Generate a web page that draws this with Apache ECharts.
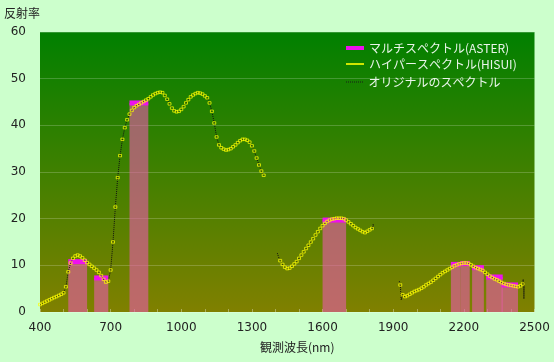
<!DOCTYPE html>
<html><head><meta charset="utf-8">
<script src="https://cdn.jsdelivr.net/npm/echarts@6/dist/echarts.min.js"></script>
<style>html,body{margin:0;padding:0;background:#ccffcc;}#c{width:554px;height:362px;}</style>
</head><body><div id="c"></div>
<script>
// ---- data ----
const xTickLabels = [400, 700, 1000, 1300, 1600, 1900, 2200, 2500];
const yTicks = [0, 10, 20, 30, 40, 50, 60];
const seriesNames = ['マルチスペクトル(ASTER)', 'ハイパースペクトル(HISUI)', 'オリジナルのスペクトル'];

// ASTER bands (nm) and reflectance
const asterStart = [520, 630, 780, 1600, 2145, 2185, 2235, 2295, 2360];
const asterEnd   = [600, 690, 860, 1700, 2185, 2225, 2285, 2365, 2430];
const asterRefl  = [10.8, 7.3, 44.8, 19.7, 10.2, 10.4, 9.5, 7.5, 5.8];

// HISUI hyperspectral samples
const hisuiWl = [
 400,410,420,430,440,450,460,470,480,490,500,510,520,530,540,550,560,570,580,590,
 600,610,620,630,640,650,660,670,680,690,700,710,720,730,740,750,760,770,780,790,
 800,810,820,830,840,850,860,870,880,890,900,910,920,930,940,950,960,970,980,990,
 1000,1010,1020,1030,1040,1050,1060,1070,1080,1090,1100,1110,1120,1130,1140,1150,1160,1170,1180,1190,
 1200,1210,1220,1230,1240,1250,1260,1270,1280,1290,1300,1310,1320,1330,1340,1350,
 1420,1430,1440,1450,1460,1470,1480,1490,1500,1510,1520,1530,1540,1550,1560,1570,1580,1590,
 1600,1610,1620,1630,1640,1650,1660,1670,1680,1690,1700,1710,1720,1730,1740,1750,1760,1770,1780,1790,1800,1810,
 1930,1940,1950,1960,1970,1980,1990,2000,2010,2020,2030,2040,2050,2060,2070,2080,2090,
 2100,2110,2120,2130,2140,2150,2160,2170,2180,2190,2200,2210,2220,2230,2240,2250,2260,2270,2280,2290,
 2300,2310,2320,2330,2340,2350,2360,2370,2380,2390,2400,2410,2420,2430,2440,2450
];
const hisuiRefl = [
 1.6,1.85,2.1,2.35,2.6,2.85,3.1,3.3,3.55,3.8,4.1,5.4,8.6,10.5,11.5,12.0,12.2,12.0,11.6,11.1,
 10.6,10.2,9.8,9.4,9.0,8.5,7.8,7.0,6.4,6.6,9.0,15.0,22.5,28.8,33.5,37.0,39.5,41.2,42.4,43.2,
 43.8,44.2,44.5,44.8,45.1,45.4,45.7,46.1,46.5,46.8,47.0,47.1,47.0,46.4,45.6,44.6,43.7,43.1,42.9,43.0,
 43.4,44.0,44.8,45.5,46.1,46.5,46.8,47.0,46.9,46.7,46.3,45.9,44.8,43.0,40.5,37.5,35.8,35.2,34.9,34.7,
 34.8,35.0,35.4,35.8,36.3,36.7,37.0,37.0,36.8,36.4,35.6,34.5,33.0,31.5,30.2,29.3,
 11.0,10.2,9.6,9.3,9.4,9.8,10.3,10.8,11.5,12.2,12.9,13.6,14.3,15.0,15.7,16.5,17.2,17.9,
 18.5,19.0,19.4,19.7,19.9,20.0,20.1,20.1,20.1,20.0,19.7,19.3,18.9,18.5,18.1,17.8,17.5,17.2,17.0,17.3,17.6,17.9,
 5.8,3.7,3.3,3.5,3.8,4.1,4.4,4.6,4.8,5.1,5.4,5.8,6.1,6.4,6.8,7.2,7.6,
 8.0,8.4,8.7,9.0,9.3,9.6,9.9,10.1,10.3,10.4,10.5,10.5,10.4,10.1,9.8,9.5,9.3,9.1,8.9,8.5,
 8.1,7.7,7.4,7.1,6.9,6.6,6.3,6.1,5.9,5.8,5.7,5.6,5.5,5.4,5.6,6.0
];

// Original spectrum: extra noisy points at the absorption-band edges
const origExtraWl   = [1408, 1413, 1815, 1818, 1926, 1934, 2452, 2455, 2458];
const origExtraRefl = [12.6, 11.8, 18.8, 17.6, 6.6, 2.6, 7.0, 2.8, 6.4];
const origGapWl = [1385, 1870];

// ---- build ----
const hisuiData = hisuiWl.map((w, i) => [w, hisuiRefl[i]]);
const origData = hisuiData.concat(origExtraWl.map((w, i) => [w, origExtraRefl[i]]))
  .concat(origGapWl.map(w => [w, '-']))
  .sort((a, b) => a[0] - b[0]);
const asterData = asterStart.map((s, i) => [s, asterEnd[i], asterRefl[i]]);

const chart = echarts.init(document.getElementById('c'));
const txt = '#222';
const jp = '"Noto Sans CJK JP", sans-serif';
const num = '"DejaVu Sans", sans-serif';
const legText = {color: '#eaf5ea', fontSize: 12, fontFamily: jp};

chart.setOption({
  animation: false,
  backgroundColor: '#ccffcc',
  grid: {
    left: 40, right: 19.5, top: 32, bottom: 50, show: true, borderWidth: 0,
    backgroundColor: {type: 'linear', x: 0, y: 0, x2: 0, y2: 1,
      colorStops: [{offset: 0, color: 'rgb(0,128,0)'}, {offset: 1, color: 'rgb(128,128,0)'}]}
  },
  legend: [
    {data: [{name: seriesNames[0], icon: 'rect', itemStyle: {color: '#ee11ee', borderWidth: 0}}],
     left: 346, top: 42, padding: 0, itemWidth: 18, itemHeight: 4, orient: 'vertical',
     textStyle: legText},
    {data: [{name: seriesNames[1], icon: 'rect', itemStyle: {color: '#ffff00', borderWidth: 0}}],
     left: 346, top: 58, padding: 0, itemWidth: 18, itemHeight: 2, orient: 'vertical',
     textStyle: legText},
    {data: [{name: seriesNames[2],
       icon: 'path://M0,0h1v1h-1zM2,0h1v1h-1zM4,0h1v1h-1zM6,0h1v1h-1zM8,0h1v1h-1zM10,0h1v1h-1zM12,0h1v1h-1zM14,0h1v1h-1zM16,0h1v1h-1z',
       itemStyle: {color: '#1a1a1a', borderWidth: 0}}],
     left: 346, top: 76, padding: 0, itemWidth: 18, itemHeight: 1, orient: 'vertical',
     textStyle: legText}
  ],
  xAxis: {
    type: 'value', min: 400, max: 2500, interval: 100,
    name: '観測波長(nm)', nameLocation: 'middle', nameGap: 29,
    nameTextStyle: {color: txt, fontSize: 12, fontFamily: jp, padding: [0, 0, 0, 20]},
    axisLine: {show: false},
    axisTick: {show: true, inside: true, length: 3, lineStyle: {color: 'rgba(255,255,255,0.35)'}},
    splitLine: {show: false},
    axisLabel: {color: txt, fontSize: 12, fontFamily: num, margin: 10,
      formatter: v => (xTickLabels.indexOf(v) >= 0 ? String(v) : '')}
  },
  yAxis: {
    type: 'value', min: yTicks[0], max: yTicks[yTicks.length - 1], interval: 10,
    name: '反射率', nameLocation: 'end', nameGap: 13,
    nameTextStyle: {color: txt, fontSize: 12, fontFamily: jp, align: 'right', verticalAlign: 'bottom'},
    axisLine: {show: false}, axisTick: {show: false},
    splitLine: {lineStyle: {color: 'rgba(255,255,255,0.2)', width: 1}},
    axisLabel: {color: txt, fontSize: 12, fontFamily: num, margin: 14}
  },
  series: [
    {
      name: seriesNames[0], type: 'custom', z: 1,
      data: asterData,
      encode: {x: [0, 1], y: 2},
      renderItem: (params, api) => {
        const p0 = api.coord([api.value(0), api.value(2)]);
        const p1 = api.coord([api.value(1), 0]);
        return {type: 'group', children: [
          {type: 'rect', shape: {x: p0[0], y: p0[1], width: p1[0] - p0[0], height: p1[1] - p0[1]},
           style: {fill: 'rgba(230,90,170,0.62)'}},
          {type: 'rect', shape: {x: p0[0], y: p0[1] - 2.5, width: p1[0] - p0[0], height: 5},
           style: {fill: '#ee11ee'}}
        ]};
      }
    },
    {
      name: seriesNames[2], type: 'line', z: 2, data: origData,
      showSymbol: false, connectNulls: false,
      lineStyle: {color: '#111', width: 1, type: 'dotted'},
      itemStyle: {color: '#111'}
    },
    {
      name: seriesNames[1], type: 'scatter', z: 3, data: hisuiData,
      symbol: 'rect', symbolSize: [3, 2.5],
      itemStyle: {color: 'rgba(0,0,0,0)', borderColor: '#ffff00', borderWidth: 0.9}
    }
  ]
});
</script></body></html>
